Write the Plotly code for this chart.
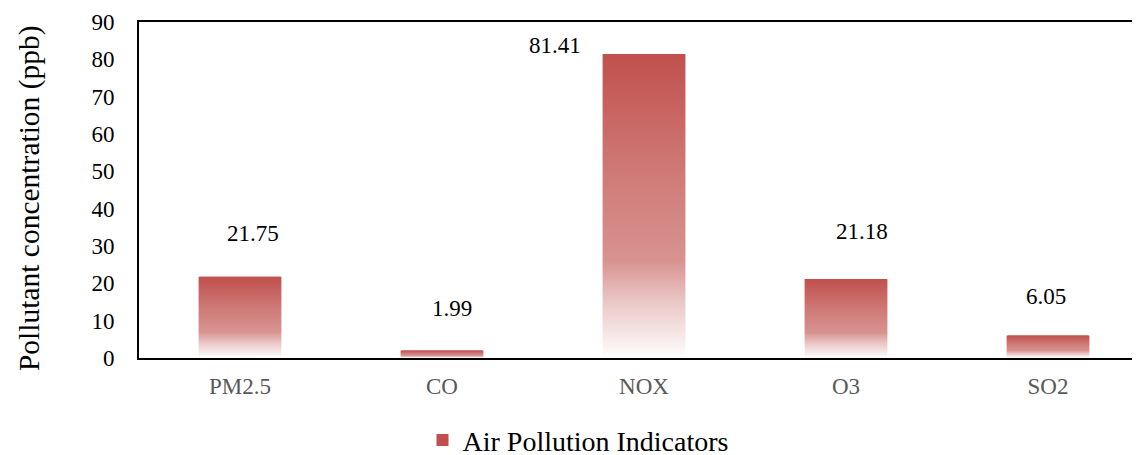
import plotly.graph_objects as go

categories = ["PM2.5", "CO", "NOX", "O3", "SO2"]
values = [21.75, 1.99, 81.41, 21.18, 6.05]
label_text = ["21.75", "1.99", "81.41", "21.18", "6.05"]
# label positions (offset from category centre, height in data units) as placed in the original
label_dx = [0.064, 0.05, -0.44, 0.08, -0.01]
label_y = [33.4, 13.2, 83.7, 33.9, 16.4]
y_ticks = [0, 10, 20, 30, 40, 50, 60, 70, 80, 90]

BAR_W = 0.41
grad = [[0.0, "#FFFFFF"], [0.06, "#F8ECEC"], [0.2, "#E8C2C1"], [0.32, "#D89390"],
        [0.6, "#CF7B78"], [1.0, "#C0504D"]]
FONT = "Liberation Serif"

fig = go.Figure()
# base bar trace (also provides the legend entry)
fig.add_trace(go.Bar(
    x=list(range(len(categories))), y=values, width=BAR_W - 0.012,
    marker=dict(color="#C0504D", line=dict(width=0)),
    name="Air Pollution Indicators", hoverinfo="skip",
))
# gradient overlays
for i, (c, v) in enumerate(zip(categories, values)):
    x0, x1 = i - BAR_W / 2, i + BAR_W / 2
    fig.add_trace(go.Scatter(
        x=[x0, x1, x1, x0, x0], y=[0, 0, v, v, 0],
        mode="lines", line=dict(width=0), fill="toself",
        fillcolor="#C0504D",
        fillgradient=dict(type="vertical", colorscale=grad, start=0, stop=v),
        showlegend=False, hoverinfo="skip",
    ))

for i, t in enumerate(label_text):
    fig.add_annotation(x=i + label_dx[i], y=label_y[i], text=t, showarrow=False,
                       font=dict(family=FONT, size=23, color="#000000"))

fig.add_annotation(xref="paper", yref="paper", x=-0.109, y=0.476,
                   text="Pollutant concentration (ppb)", textangle=-90, showarrow=False,
                   xanchor="center", yanchor="middle",
                   font=dict(family=FONT, size=29.5, color="#000000"))

fig.update_layout(
    width=1140, height=455,
    margin=dict(l=131, r=0, t=14, b=105),
    paper_bgcolor="white", plot_bgcolor="white",
    font=dict(family=FONT, size=23, color="#000000"),
    showlegend=True,
    legend=dict(orientation="h", xref="container", yref="container",
                x=0.500, y=0.050, xanchor="center", yanchor="middle",
                font=dict(family=FONT, size=28, color="#000000")),
    xaxis=dict(range=[-0.5, 4.495], tickmode="array", tickvals=list(range(len(categories))),
               ticktext=categories, showgrid=False, zeroline=False,
               showline=True, linecolor="#000000", linewidth=2, mirror=True,
               ticks="", ticklabelstandoff=6,
               tickfont=dict(family=FONT, size=23, color="#595959")),
    yaxis=dict(range=[0, 90], tickvals=y_ticks, showgrid=False, zeroline=False,
               showline=True, linecolor="#000000", linewidth=2, mirror=False,
               ticks="", ticklabelstandoff=18,
               tickfont=dict(family=FONT, size=23, color="#000000")),
)
fig.write_html("out.html")
